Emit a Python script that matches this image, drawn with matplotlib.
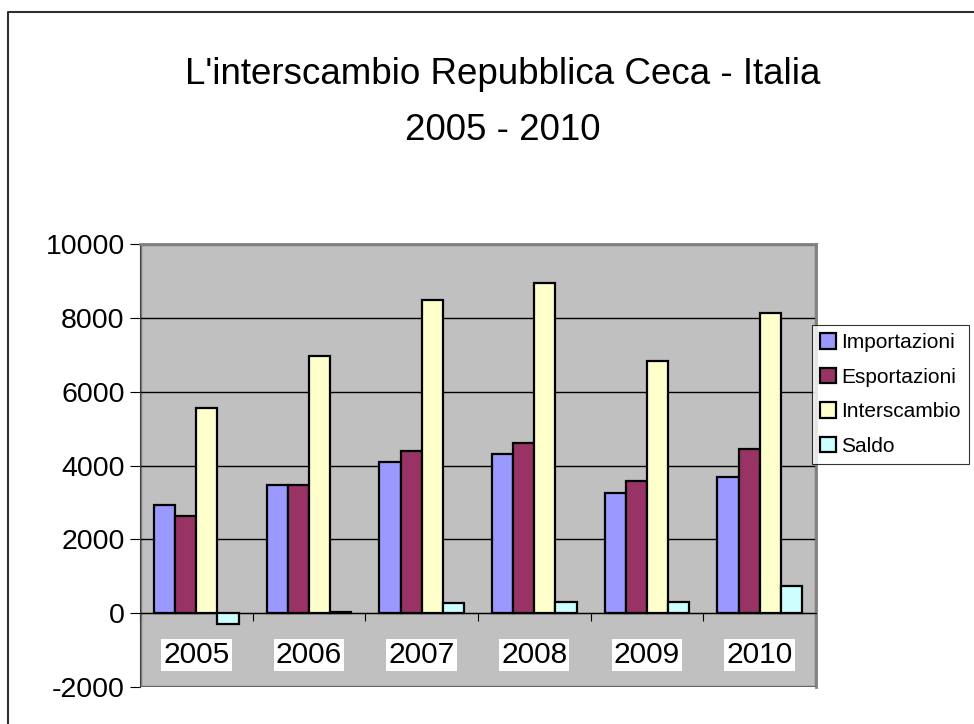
import numpy as np
import matplotlib
matplotlib.use("Agg")
import matplotlib.pyplot as plt
from matplotlib.patches import Rectangle

plt.rcParams['font.family'] = ['Liberation Sans', 'DejaVu Sans']
plt.rcParams['axes.unicode_minus'] = False

# values
years = ["2005", "2006", "2007", "2008", "2009", "2010"]
importazioni = [2930, 3460, 4090, 4310, 3260, 3700]
esportazioni = [2640, 3480, 4380, 4610, 3580, 4450]
interscambio = [5570, 6970, 8490, 8950, 6830, 8140]
saldo = [-290, 20, 270, 310, 310, 730]

series = [("Importazioni", importazioni, "#9999FF"),
          ("Esportazioni", esportazioni, "#993366"),
          ("Interscambio", interscambio, "#FFFFCC"),
          ("Saldo", saldo, "#CCFFFF")]

fig = plt.figure(figsize=(9.74, 7.24), dpi=100)

# outer chart border (only left and top visible in the crop)
fig.add_artist(plt.Line2D([8 / 974, 8 / 974, 1.0], [0, 1 - 12 / 724, 1 - 12 / 724],
                          transform=fig.transFigure, color="#303030", linewidth=1.5))

ax = fig.add_axes([140 / 974, 1 - 687 / 724, 676 / 974, 443 / 724])
ax.set_facecolor("#C0C0C0")

x = np.arange(len(years))
w = 0.1875
for i, (name, vals, col) in enumerate(series):
    ax.bar(x + (i - 1.5) * w, vals, w, color=col, edgecolor="black",
           linewidth=1.6, label=name, zorder=3)

ax.set_xlim(-0.5, len(years) - 0.5)
ax.set_ylim(-2000, 10000)
ax.set_yticks(range(-2000, 10001, 2000))
ax.tick_params(axis="y", labelsize=20.5, length=7.5, direction="out", pad=3.5)
ax.yaxis.grid(True, color="black", linewidth=1.0, zorder=1)
ax.set_axisbelow(True)

# category axis crosses at zero, tick marks between groups
ax.spines["bottom"].set_position(("data", 0))
ax.spines["bottom"].set_color("black")
ax.set_xticks(np.arange(-0.5, len(years), 1.0))
ax.tick_params(axis="x", labelbottom=False, length=6, direction="out")
for s in ["top", "right"]:
    ax.spines[s].set_color("#808080")
    ax.spines[s].set_linewidth(2)
ax.spines["left"].set_color("#404040")

# gray frame round the plot area
ax.add_patch(Rectangle((0, 0), 1, 1, transform=ax.transAxes, fill=False,
                       edgecolor="#808080", linewidth=2.5, zorder=0.5))

for i, yr in enumerate(years):
    ax.text(i, -1130, yr, ha="center", va="center", fontsize=21.5,
            bbox=dict(facecolor="white", edgecolor="none", pad=1.5), zorder=4)

fig.text(503 / 974, 1 - 75 / 724, "L'interscambio Repubblica Ceca - Italia",
         ha="center", va="center", fontsize=26.5)
fig.text(503 / 974, 1 - 130 / 724, "2005 - 2010",
         ha="center", va="center", fontsize=26.5)

leg = ax.legend(loc="upper left", bbox_to_anchor=(812 / 974, 1 - 325 / 724),
                bbox_transform=fig.transFigure, fontsize=15, frameon=True,
                fancybox=False, edgecolor="black", handlelength=0.75,
                handleheight=0.75, handletextpad=0.25, borderpad=0.4,
                labelspacing=0.74, borderaxespad=0)
leg.get_frame().set_linewidth(0.8)

fig.savefig("out.png", dpi=100)
